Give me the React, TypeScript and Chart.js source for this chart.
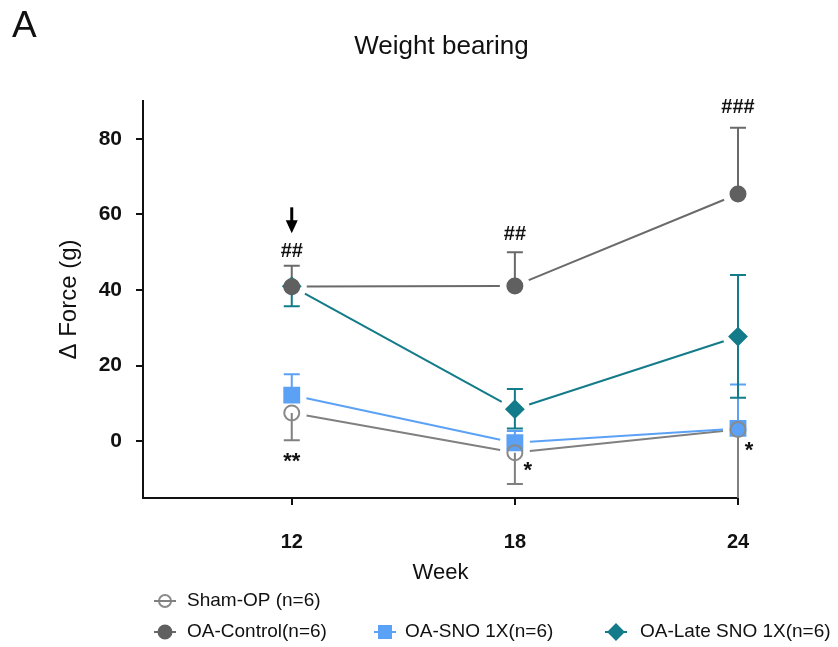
import React, { useEffect, useRef } from 'react';
import { Chart, registerables } from 'chart.js';

Chart.register(...registerables);

// ---------------- data ----------------
const weeks = [12, 18, 24];
const xTickValues = [12, 18, 24];
const yTickValues = [0, 20, 40, 60, 80];
const seriesLabels = ['Sham-OP (n=6)', 'OA-Control(n=6)', 'OA-SNO 1X(n=6)', 'OA-Late SNO 1X(n=6)'];

const shamMean = [7.5, -3.0, 3.1];
const shamErrUp = [0, 0, 0];
const shamErrDown = [7.2, 8.3, 25];

const controlMean = [40.9, 41.1, 65.4];
const controlErrUp = [5.5, 8.9, 17.5];
const controlErrDown = [0, 0, 0];

const snoMean = [12.2, -0.4, 3.4];
const snoErrUp = [5.5, 3.1, 11.6];
const snoErrDown = [0, 0, 0];

const lateMean = [41.0, 8.5, 27.7];
const lateErrUp = [0, 5.3, 16.3];
const lateErrDown = [5.3, 5.1, 16.2];

const annotationTexts = ['##', '##', '###', '**', '*', '*'];
const annotationWeeks = [12, 18, 24, 12, 18, 24];
const annotationValues = [50.7, 55.2, 88.6, -4.2, -6.8, -1.5];
const arrowWeek = 12;
const arrowTipValue = 55.0;

// ---------------- styles ----------------
const FONT = '"Liberation Sans", Arial, Helvetica, sans-serif';
const TEXT = '#111111';
const annotationDx = [0, 0, 0, 0, 13, 11];
const legendLayout = [
  { cx: 165, cy: 601, tx: 187 },
  { cx: 165, cy: 632, tx: 187 },
  { cx: 385, cy: 632, tx: 405 },
  { cx: 616, cy: 632, tx: 640 },
];

const seriesStyle = [
  { line: '#808080', stroke: '#8a8a8a', fill: 'rgba(0,0,0,0)', shape: 'circle', radius: 7.5, legendR: 6 },
  { line: '#6a6a6a', stroke: '#606060', fill: '#606060', shape: 'circle', radius: 7.5, legendR: 6.5 },
  { line: '#5ba1f5', stroke: '#5ba1f5', fill: '#5ba1f5', shape: 'rect', radius: 10.5, legendR: 6 },
  { line: '#137b89', stroke: '#137b89', fill: '#137b89', shape: 'rectRot', radius: 8.5, legendR: 7.5 },
];

const seriesMeans = [shamMean, controlMean, snoMean, lateMean];
const seriesUp = [shamErrUp, controlErrUp, snoErrUp, lateErrUp];
const seriesDown = [shamErrDown, controlErrDown, snoErrDown, lateErrDown];

const GAP = 15;
const CAP = 8;

function drawMarker(ctx: CanvasRenderingContext2D, shape: string, x: number, y: number, r: number, fill: string, stroke: string) {
  ctx.save();
  ctx.beginPath();
  if (shape === 'circle') {
    ctx.arc(x, y, r, 0, Math.PI * 2);
  } else if (shape === 'rect') {
    ctx.rect(x - r, y - r, 2 * r, 2 * r);
  } else {
    ctx.moveTo(x - r, y);
    ctx.lineTo(x, y - r);
    ctx.lineTo(x + r, y);
    ctx.lineTo(x, y + r);
    ctx.closePath();
  }
  ctx.fillStyle = fill;
  ctx.fill();
  ctx.lineWidth = 2;
  ctx.strokeStyle = stroke;
  ctx.stroke();
  ctx.restore();
}

function drawCentered(ctx: CanvasRenderingContext2D, text: string, x: number, y: number) {
  const m = ctx.measureText(text);
  const asc = m.actualBoundingBoxAscent;
  const desc = m.actualBoundingBoxDescent;
  ctx.textAlign = 'center';
  ctx.textBaseline = 'alphabetic';
  ctx.fillText(text, x, y + (asc - desc) / 2);
}

const decorPlugin = {
  id: 'decor',
  beforeDatasetsDraw(chart: any) {
    const ctx: CanvasRenderingContext2D = chart.ctx;
    const xs = chart.scales.x;
    const ys = chart.scales.y;
    const area = chart.chartArea;
    ctx.save();
    ctx.lineCap = 'butt';
    // connecting lines with gaps around markers
    for (let s = 0; s < seriesMeans.length; s++) {
      const pts = chart.getDatasetMeta(s).data;
      ctx.strokeStyle = seriesStyle[s].line;
      ctx.lineWidth = 2;
      for (let i = 0; i < pts.length - 1; i++) {
        const a = pts[i], b = pts[i + 1];
        const dx = b.x - a.x, dy = b.y - a.y;
        const len = Math.hypot(dx, dy);
        if (len <= 2 * GAP) continue;
        const ux = dx / len, uy = dy / len;
        ctx.beginPath();
        ctx.moveTo(a.x + ux * GAP, a.y + uy * GAP);
        ctx.lineTo(b.x - ux * GAP, b.y - uy * GAP);
        ctx.stroke();
      }
    }
    // error bars
    for (let s = 0; s < seriesMeans.length; s++) {
      ctx.strokeStyle = seriesStyle[s].line;
      ctx.lineWidth = 2;
      for (let i = 0; i < weeks.length; i++) {
        const x = xs.getPixelForValue(weeks[i]);
        const yc = ys.getPixelForValue(seriesMeans[s][i]);
        if (seriesUp[s][i] > 0) {
          const yt = ys.getPixelForValue(seriesMeans[s][i] + seriesUp[s][i]);
          ctx.beginPath();
          ctx.moveTo(x, yc);
          ctx.lineTo(x, yt);
          ctx.moveTo(x - CAP, yt);
          ctx.lineTo(x + CAP, yt);
          ctx.stroke();
        }
        if (seriesDown[s][i] > 0) {
          let yb = ys.getPixelForValue(seriesMeans[s][i] - seriesDown[s][i]);
          let cap = true;
          if (yb > area.bottom) { yb = area.bottom; cap = false; }
          ctx.beginPath();
          ctx.moveTo(x, yc);
          ctx.lineTo(x, yb);
          if (cap) {
            ctx.moveTo(x - CAP, yb);
            ctx.lineTo(x + CAP, yb);
          }
          ctx.stroke();
        }
      }
    }
    ctx.restore();
  },
  afterDraw(chart: any) {
    const ctx: CanvasRenderingContext2D = chart.ctx;
    const xs = chart.scales.x;
    const ys = chart.scales.y;
    const area = chart.chartArea;
    ctx.save();
    ctx.fillStyle = TEXT;
    // panel letter
    ctx.font = `37px ${FONT}`;
    ctx.textAlign = 'left';
    ctx.textBaseline = 'alphabetic';
    ctx.fillText('A', 12, 37);
    // title
    ctx.font = `26px ${FONT}`;
    drawCentered(ctx, 'Weight bearing', (area.left + area.right) / 2 + 1, 47);
    // annotations
    for (let i = 0; i < annotationTexts.length; i++) {
      const t = annotationTexts[i];
      ctx.font = t.indexOf('*') >= 0 ? `bold 22px ${FONT}` : `bold 20px ${FONT}`;
      const x = xs.getPixelForValue(annotationWeeks[i]) + annotationDx[i];
      const y = ys.getPixelForValue(annotationValues[i]);
      drawCentered(ctx, t, x, y);
    }
    // arrow
    const ax = xs.getPixelForValue(arrowWeek);
    const tip = ys.getPixelForValue(arrowTipValue);
    ctx.strokeStyle = '#000';
    ctx.fillStyle = '#000';
    ctx.lineWidth = 3;
    ctx.beginPath();
    ctx.moveTo(ax, tip - 26);
    ctx.lineTo(ax, tip - 10);
    ctx.stroke();
    ctx.beginPath();
    ctx.moveTo(ax - 6, tip - 13);
    ctx.lineTo(ax + 6, tip - 13);
    ctx.lineTo(ax, tip);
    ctx.closePath();
    ctx.fill();
    // legend
    for (let s = 0; s < seriesLabels.length; s++) {
      const L = legendLayout[s];
      const st = seriesStyle[s];
      ctx.strokeStyle = st.line;
      ctx.lineWidth = 2;
      ctx.beginPath();
      ctx.moveTo(L.cx - 11, L.cy);
      ctx.lineTo(L.cx + 11, L.cy);
      ctx.stroke();
      drawMarker(ctx, st.shape, L.cx, L.cy, st.legendR, st.fill, st.stroke);
      if (s === 0) {
        ctx.beginPath();
        ctx.moveTo(L.cx - 11, L.cy);
        ctx.lineTo(L.cx + 11, L.cy);
        ctx.stroke();
      }
      ctx.fillStyle = TEXT;
      ctx.font = `19px ${FONT}`;
      ctx.textAlign = 'left';
      ctx.textBaseline = 'middle';
      ctx.fillText(seriesLabels[s], L.tx, L.cy);
    }
    ctx.restore();
  },
};

export default function App() {
  const canvasRef = useRef<HTMLCanvasElement | null>(null);

  useEffect(() => {
    const canvas = canvasRef.current;
    if (!canvas) return;
    Chart.defaults.font.family = FONT;
    const datasets = seriesLabels.map((label, s) => ({
      label,
      data: weeks.map((w, i) => ({ x: w, y: seriesMeans[s][i] })),
      showLine: false,
      clip: false as any,
      pointStyle: seriesStyle[s].shape as any,
      pointRadius: seriesStyle[s].radius,
      pointHoverRadius: seriesStyle[s].radius,
      pointBackgroundColor: seriesStyle[s].fill,
      pointBorderColor: seriesStyle[s].stroke,
      pointBorderWidth: 2,
      borderColor: seriesStyle[s].line,
      backgroundColor: seriesStyle[s].fill,
    }));

    const chart = new Chart(canvas, {
      type: 'line',
      data: { datasets },
      options: {
        animation: false,
        responsive: false,
        maintainAspectRatio: false,
        events: [],
        layout: { padding: { top: 101, right: 100, bottom: 59, left: 0 } },
        plugins: {
          legend: { display: false },
          tooltip: { enabled: false },
          title: { display: false },
        },
        scales: {
          x: {
            type: 'linear',
            min: 8,
            max: 24,
            afterBuildTicks: (s: any) => { s.ticks = xTickValues.map((v) => ({ value: v })); },
            afterFit: (s: any) => { s.height = 90; },
            grid: { display: true, drawOnChartArea: false, drawTicks: true, tickLength: 7, color: TEXT, lineWidth: 2 },
            border: { display: true, color: TEXT, width: 2 },
            ticks: { color: TEXT, font: { size: 20, weight: 'bold' }, padding: 25, maxRotation: 0, autoSkip: false },
            title: { display: true, text: 'Week', color: TEXT, font: { size: 22 }, padding: { top: 0, bottom: 2 } },
          },
          y: {
            type: 'linear',
            min: -15,
            max: 90,
            afterBuildTicks: (s: any) => { s.ticks = yTickValues.map((v) => ({ value: v })); },
            afterFit: (s: any) => { s.width = 143; },
            grid: { display: true, drawOnChartArea: false, drawTicks: true, tickLength: 7, color: TEXT, lineWidth: 2 },
            border: { display: true, color: TEXT, width: 2 },
            ticks: { color: TEXT, font: { size: 21, weight: 'bold' }, padding: 14 },
            title: { display: true, text: 'Δ Force (g)', color: TEXT, font: { size: 24 }, padding: { top: 55, bottom: 0 } },
          },
        },
      } as any,
      plugins: [decorPlugin],
    });
    return () => chart.destroy();
  }, []);

  return (
    <div style={{ position: 'absolute', left: 0, top: 0, width: 838, height: 647, background: '#fff' }}>
      <canvas ref={canvasRef} width={838} height={647} style={{ width: 838, height: 647, display: 'block' }} />
    </div>
  );
}
